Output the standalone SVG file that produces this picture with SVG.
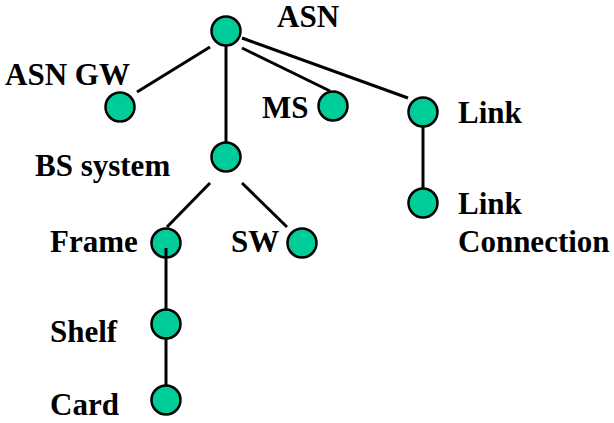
<svg xmlns="http://www.w3.org/2000/svg" width="614" height="423" viewBox="0 0 614 423">
<style>
.n{fill:#00CC99;stroke:#000;stroke-width:2.5}
.t{font-family:'Times New Roman',Times,'Liberation Serif','Nimbus Roman','DejaVu Serif',serif;font-weight:700;font-size:31px;fill:#000}
.c line{stroke:#000;stroke-width:3}
</style>
<rect width="614" height="423" fill="#fff"/>
<g id="connectors" class="c">
<line x1="210" y1="47" x2="137" y2="92"/>
<line x1="226" y1="46" x2="226" y2="143"/>
<line x1="242" y1="48" x2="330" y2="91"/>
<line x1="242" y1="38" x2="408" y2="98"/>
<line x1="423" y1="112" x2="423" y2="203"/>
<line x1="210" y1="183" x2="167" y2="227"/>
<line x1="242" y1="183" x2="287" y2="227"/>
<line x1="166" y1="243" x2="166" y2="324"/>
<line x1="166" y1="324" x2="166" y2="400"/>
</g>
<g id="asn"><circle class="n" cx="226" cy="31" r="14.5"/><text class="t" x="277" y="27">ASN</text></g>
<g id="asngw"><circle class="n" cx="120" cy="107" r="14.5"/><text class="t" x="5" y="85">ASN GW</text></g>
<g id="ms"><circle class="n" cx="333" cy="106" r="14.5"/><text class="t" x="262" y="118">MS</text></g>
<g id="link"><circle class="n" cx="423" cy="112" r="14.5"/><text class="t" x="458" y="123">Link</text></g>
<g id="linkconn"><circle class="n" cx="423" cy="203" r="14.5"/><text class="t" x="458" y="214">Link</text><text class="t" x="458" y="252">Connection</text></g>
<g id="bs"><circle class="n" cx="226" cy="157" r="14.5"/><text class="t" x="35" y="176">BS system</text></g>
<g id="frame"><circle class="n" cx="166" cy="243" r="14.5"/><line x1="166" y1="248" x2="166" y2="258" stroke="#000" stroke-width="3"/><text class="t" x="50" y="252">Frame</text></g>
<g id="sw"><circle class="n" cx="302" cy="243" r="14.5"/><text class="t" x="231" y="252">SW</text></g>
<g id="shelf"><circle class="n" cx="166" cy="324" r="14.5"/><text class="t" x="50" y="342">Shelf</text></g>
<g id="card"><circle class="n" cx="166" cy="400" r="14.5"/><text class="t" x="50" y="415">Card</text></g>
</svg>
